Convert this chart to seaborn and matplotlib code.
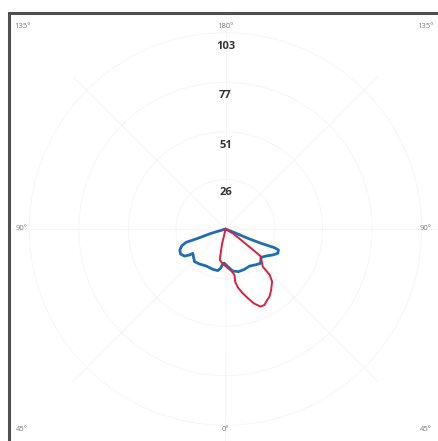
import numpy as np
import pandas as pd
import matplotlib
matplotlib.use("Agg")
import matplotlib.pyplot as plt
import seaborn as sns
from matplotlib.patches import Rectangle

# photometric curves: gamma angle in degrees (0 = nadir, negative = left half), intensity
blue_angle = [-73, -73.2, -71.4, -71.3, -69.1, -65.3, -60.9, -56.6, -54.2, -53.3, -47.2, -43.5,
              -36.6, -27.6, -17.4, -10.4, -7.2, -5.3, -2.2, 3.5, 9.9, 16.9, 25.2, 33.0, 40.7,
              45.5, 51.5, 56.4, 61.2, 65.1, 68.4, 69.1, 68.1, 67.3, 67.9, 68]
blue_value = [0, 7.9, 15.3, 21.8, 24.5, 26.4, 27.0, 25.8, 23.3, 21.4, 22.7, 23.6,
              22.9, 21.9, 22.2, 22.2, 20.8, 19.0, 17.9, 19.8, 22.4, 23.4, 23.4, 23.2, 24.7,
              25.7, 23.9, 25.6, 28.3, 30.3, 29.9, 27.5, 20.2, 12.7, 6.0, 0]

red_angle = [-12, -12.3, -13.1, -11.7, -10.9, -10.4, -6.2, 1.0, 7.7, 11.1, 10.4, 11.9, 15.1,
             17.9, 20.9, 24.3, 27.2, 30.4, 33.0, 36.8, 41.5, 43.9, 44.3, 44.7, 48.0, 52.3,
             53.0, 54.9, 59.4, 60]
red_value = [0, 4.1, 7.7, 11.3, 14.8, 16.5, 17.8, 19.8, 22.1, 24.6, 28.1, 31.3, 35.0,
             38.2, 41.8, 44.7, 44.8, 43.2, 42.4, 40.0, 36.9, 33.5, 30.6, 27.8, 25.6, 23.2,
             16.9, 10.0, 4.5, 0]

ring_values = [26, 51, 77, 103]
ring_labels = ["26", "51", "77", "103"]

df = pd.concat([
    pd.DataFrame({"theta": np.deg2rad(blue_angle), "cd": blue_value, "plane": "C0-C180"}),
    pd.DataFrame({"theta": np.deg2rad(red_angle), "cd": red_value, "plane": "C90-C270"}),
], ignore_index=True)

sns.set_style("white")
plt.rcParams["font.family"] = ["Open Sans", "DejaVu Sans"]

fig = plt.figure(figsize=(4.39, 4.41), dpi=100)
ax = fig.add_axes([9 / 439, -4.5 / 441, 433 / 439, 433 / 441], projection="polar")
ax.set_theta_zero_location("S")
ax.set_theta_direction(1)
ax.set_ylim(0, 216.5 / 1.905)

sns.lineplot(data=df, x="theta", y="cd", hue="plane", sort=False, estimator=None,
             palette={"C0-C180": "#1f6db5", "C90-C270": "#d8203f"},
             linewidth=1.8, legend=False, ax=ax)
for ln, lw in zip(ax.lines, [2.0, 1.4]):
    ln.set_linewidth(lw)

ax.set_thetagrids(np.arange(0, 360, 45), labels=[""] * 8)
ax.set_rgrids(ring_values, labels=[""] * 4)
ax.grid(True, color="#f6f6f6", linewidth=0.7)
ax.spines["polar"].set_visible(False)
ax.set_xlabel("")
ax.set_ylabel("")

ax.add_patch(Rectangle((0, 0), 1, 1, transform=ax.transAxes, fill=False,
                       edgecolor="#505050", linewidth=2.2, clip_on=False))

lab = dict(transform=ax.transAxes, fontsize=5.5, color="#7a7a7a", ha="center", va="center")
for x, y, t in [(0.03, 0.968, "135°"), (0.5, 0.968, "180°"), (0.962, 0.968, "135°"),
                (0.03, 0.5, "90°"), (0.962, 0.5, "90°"),
                (0.03, 0.037, "45°"), (0.5, 0.037, "0°"), (0.962, 0.037, "45°")]:
    ax.text(x, y, t, **lab)

for v, t in zip(ring_values, ring_labels):
    ax.annotate(t, xy=(np.pi, v), xytext=(0, -9.7), textcoords="offset points",
                ha="center", va="center", fontsize=8, fontweight="bold", color="#333333")

fig.savefig("out.png", dpi=100)
